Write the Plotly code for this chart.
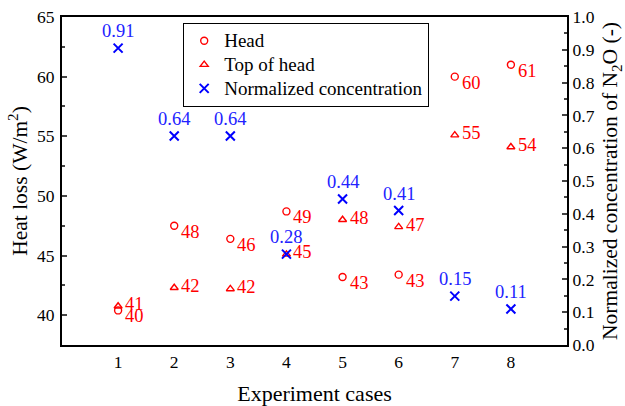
import plotly.graph_objects as go

cases = [1, 2, 3, 4, 5, 6, 7, 8]
head = [40.4, 47.5, 46.4, 48.7, 43.2, 43.4, 60.0, 61.0]
head_labels = ["40", "48", "46", "49", "43", "43", "60", "61"]
top_head = [40.75, 42.3, 42.2, 45.1, 48.0, 47.4, 55.1, 54.1]
top_labels = ["41", "42", "42", "45", "48", "47", "55", "54"]
conc = [0.905, 0.637, 0.637, 0.277, 0.445, 0.41, 0.149, 0.11]
conc_labels = ["0.91", "0.64", "0.64", "0.28", "0.44", "0.41", "0.15", "0.11"]
series_names = ["Head", "Top of head", "Normalized concentration"]

RED = "#FF0000"
BLUE = "#0000FF"
FONT = "Liberation Serif"


def leg(name):
    return '<span style="font-size:19px">' + name + '</span>'


fig = go.Figure()
fig.add_trace(go.Scatter(x=cases, y=head, mode="markers", name=leg(series_names[0]),
                         marker=dict(symbol="circle-open", size=7, color=RED, line=dict(width=1.4, color=RED))))
fig.add_trace(go.Scatter(x=cases, y=top_head, mode="markers", name=leg(series_names[1]),
                         marker=dict(symbol="triangle-up-open", size=7, color=RED, line=dict(width=1.4, color=RED))))
fig.add_trace(go.Scatter(x=cases, y=conc, mode="markers", name=leg(series_names[2]), yaxis="y2",
                         marker=dict(symbol="x-thin-open", size=9, color=BLUE, line=dict(width=2, color=BLUE))))

ann = []
for xc, yv, t in zip(cases, head, head_labels):
    ann.append(dict(x=xc, y=yv, xref="x", yref="y", text=t, showarrow=False, xanchor="left", yanchor="middle",
                    xshift=5, yshift=-6, font=dict(family=FONT, size=18.5, color=RED)))
for xc, yv, t in zip(cases, top_head, top_labels):
    ann.append(dict(x=xc, y=yv, xref="x", yref="y", text=t, showarrow=False, xanchor="left", yanchor="middle",
                    xshift=5, yshift=2, font=dict(family=FONT, size=18.5, color=RED)))
for xc, yv, t in zip(cases, conc, conc_labels):
    ann.append(dict(x=xc, y=yv, xref="x", yref="y2", text=t, showarrow=False, xanchor="center", yanchor="bottom",
                    yshift=5, font=dict(family=FONT, size=18.5, color="#2222FF")))

fig.update_layout(
    width=625, height=406,
    margin=dict(l=62, r=58, t=17, b=61),
    paper_bgcolor="white", plot_bgcolor="white",
    font=dict(family=FONT, size=17.5, color="black"),
    showlegend=True,
    legend=dict(x=0.24, y=0.982, xanchor="left", yanchor="top", bgcolor="white",
                bordercolor="black", borderwidth=1, font=dict(family=FONT, size=16)),
    annotations=ann,
    xaxis=dict(range=[0, 9], tickvals=cases, ticks="", showline=True, linewidth=2, linecolor="black",
               mirror=True, showgrid=False, zeroline=False, automargin=False,
               title=dict(text="Experiment cases", font=dict(family=FONT, size=22), standoff=17)),
    yaxis=dict(range=[37.5, 65], tickvals=[40, 45, 50, 55, 60, 65], ticks="inside", ticklen=5, tickwidth=1.5,
               ticklabelstandoff=2,
               minor=dict(ticks="inside", ticklen=3, tickwidth=1.5, dtick=2.5, tick0=37.5, showgrid=False),
               showline=True, linewidth=2, linecolor="black", showgrid=False, zeroline=False, automargin=False,
               title=dict(text="Heat loss (W/m<sup>2</sup>)", font=dict(family=FONT, size=21.5), standoff=3)),
    yaxis2=dict(range=[0, 1], overlaying="y", side="right", dtick=0.1, tickformat=".1f",
                ticks="inside", ticklen=5, tickwidth=1.5, automargin=False,
                minor=dict(ticks="inside", ticklen=3, tickwidth=1.5, dtick=0.05, showgrid=False),
                showline=True, linewidth=2, linecolor="black", showgrid=False, zeroline=False,
                title=dict(text="Normalized concentration of N<sub>2</sub>O (-)", font=dict(family=FONT, size=21.5), standoff=16)),
)

fig.write_html("out.html")
